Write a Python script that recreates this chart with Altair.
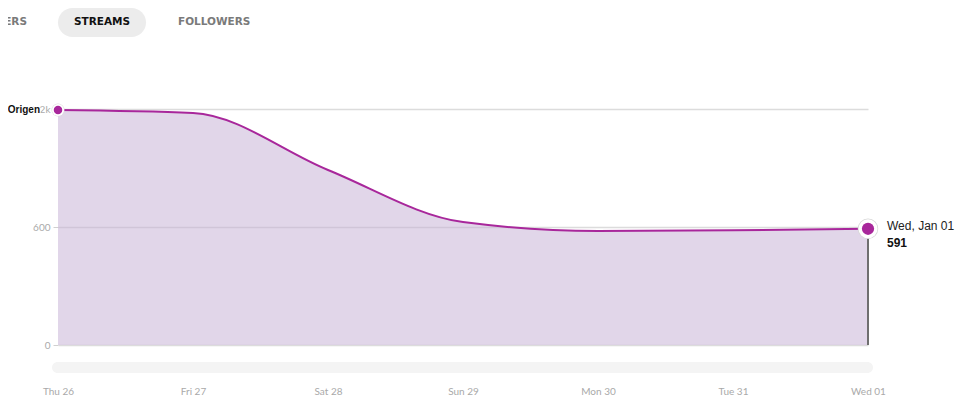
import altair as alt
import pandas as pd

# ---- data ----
days = ["Thu 26", "Fri 27", "Sat 28", "Sun 29", "Mon 30", "Tue 31", "Wed 01"]
streams = [1195, 1180, 890, 625, 580, 583, 591]
y_ticks = [0, 600, 1200]
tabs = ["LISTENERS", "STREAMS", "FOLLOWERS"]
series_name = "Origen"
hover_label = "Wed, Jan 01"

df = pd.DataFrame({"day": days, "streams": streams})
first = df.iloc[[0]].reset_index(drop=True)
last = df.iloc[[-1]].reset_index(drop=True)
one = pd.DataFrame({"k": [0]})

MAG = "#a8279b"

x = alt.X(
    "day:O", sort=days, title=None,
    scale=alt.Scale(type="point", padding=0),
    axis=alt.Axis(labelAngle=0, ticks=False, domain=False, grid=False,
                  labelPadding=41, labelFontSize=10, labelColor="#a9a9a9",
                  labelFont="Lato"),
)
y = alt.Y(
    "streams:Q", title=None,
    scale=alt.Scale(domain=[0, 1200], nice=False),
    axis=alt.Axis(values=y_ticks, domain=False,
                  labelExpr="datum.value >= 1000 ? format(datum.value, '~s') : format(datum.value, 'd')",
                  tickSize=5, tickColor="#d0d0d0", labelPadding=3,
                  labelFontSize=10, labelColor="#aaaaaa", labelFont="Lato",
                  gridColor="#dcdcdc", gridWidth=1.5),
)

base = alt.Chart(df).encode(x=x, y=y)

scrollbar = alt.Chart(one).mark_rect(cornerRadius=6, color="#f4f4f4").encode(
    x=alt.value(-6), x2=alt.value(815), y=alt.value(253), y2=alt.value(264))

pill = alt.Chart(one).mark_rect(cornerRadius=14.5, color="#ececec").encode(
    x=alt.value(0), x2=alt.value(88), y=alt.value(-101), y2=alt.value(-72))

tab_font = dict(font="DejaVu Sans", fontWeight="bold", fontSize=10.5, baseline="middle")
tab0 = alt.Chart(one).mark_text(align="right", color="#7a7a7a", **tab_font).encode(
    x=alt.value(-31), y=alt.value(-87), text=alt.value(tabs[0]))
tab1 = alt.Chart(one).mark_text(align="center", color="#111111", **tab_font).encode(
    x=alt.value(44), y=alt.value(-87), text=alt.value(tabs[1]))
tab2 = alt.Chart(one).mark_text(align="left", color="#7a7a7a", **tab_font).encode(
    x=alt.value(120), y=alt.value(-87), text=alt.value(tabs[2]))

area = base.mark_area(interpolate="monotone", color="#c4aed3", opacity=0.5)
line = base.mark_line(interpolate="monotone", color=MAG, strokeWidth=2)

rule = alt.Chart(last).mark_rule(color="#6f6f6f", strokeWidth=2).encode(
    x=x, y=y, y2=alt.datum(0))

p_first = [
    alt.Chart(first).mark_circle(size=169, opacity=1, color="#dddddd").encode(x=x, y=y),
    alt.Chart(first).mark_circle(size=144, opacity=1, color="#ffffff").encode(x=x, y=y),
    alt.Chart(first).mark_circle(size=72, opacity=1, color=MAG).encode(x=x, y=y),
]
p_last = [
    alt.Chart(last).mark_circle(size=420, opacity=1, color="#d8d8d8").encode(x=x, y=y),
    alt.Chart(last).mark_circle(size=360, opacity=1, color="#ffffff").encode(x=x, y=y),
    alt.Chart(last).mark_circle(size=150, opacity=1, color=MAG).encode(x=x, y=y),
]

name_halo = alt.Chart(first).mark_text(
    align="right", baseline="middle", dx=-18, fontSize=10, fontWeight="bold",
    font="Liberation Sans", stroke="white", strokeWidth=2, color="white").encode(
    x=x, y=y, text=alt.value(series_name))
name_txt = alt.Chart(first).mark_text(
    align="right", baseline="middle", dx=-18, fontSize=10, fontWeight="bold",
    font="Liberation Sans", color="#111111").encode(
    x=x, y=y, text=alt.value(series_name))

hover_txt = alt.Chart(last).mark_text(
    align="left", baseline="middle", dx=19, dy=-3, fontSize=12,
    font="Liberation Sans", color="#222222").encode(
    x=x, y=y, text=alt.value(hover_label))
hover_val = alt.Chart(last).mark_text(
    align="left", baseline="middle", dx=19, dy=14, fontSize=12, fontWeight="bold",
    font="Liberation Sans", color="#111111").encode(
    x=x, y=y, text=alt.Text("streams:Q"))

chart = alt.layer(
    scrollbar, pill, tab0, tab1, tab2, area, line, rule,
    *p_first, *p_last, name_halo, name_txt, hover_txt, hover_val,
).properties(
    width=810, height=236,
    autosize=alt.AutoSizeParams(type="none"),
    padding={"left": 50, "top": 101, "right": 91, "bottom": 51},
).configure_view(stroke=None)

chart.save("out.html", embed_options={"renderer": "svg", "actions": False})
